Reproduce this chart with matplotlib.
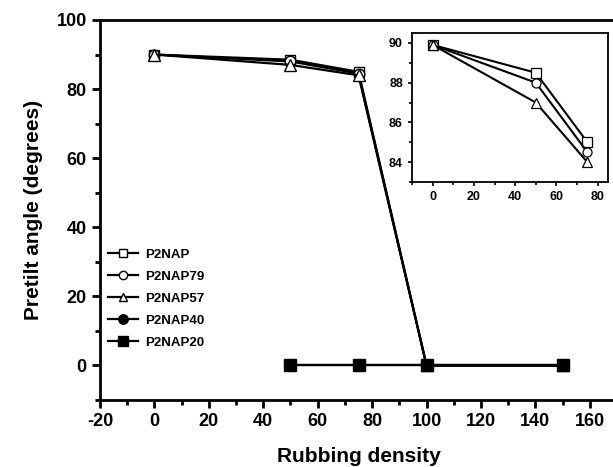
import matplotlib
matplotlib.use('Agg')
import matplotlib.pyplot as plt
from matplotlib.ticker import MultipleLocator

plt.rcParams['font.family'] = ['Liberation Sans', 'DejaVu Sans']
plt.rcParams['font.weight'] = 'bold'
plt.rcParams['axes.unicode_minus'] = False

# Hauptdiagramm
names = ['P2NAP', 'P2NAP79', 'P2NAP57', 'P2NAP40', 'P2NAP20']
markers = ['s', 'o', '^', 'o', 's']
filled = [False, False, False, True, True]

x_open = [0, 50, 75, 100, 150]
y_p2nap = [90, 88.5, 85, 0, 0]
y_p2nap79 = [90, 88, 84.5, 0, 0]
y_p2nap57 = [90, 87, 84, 0, 0]
x_filled = [50, 75, 100, 150]
y_p2nap40 = [0, 0, 0, 0]
y_p2nap20 = [0, 0, 0, 0]

# Inset
x_inset = [0, 50, 75]
yi_p2nap = [89.9, 88.5, 85]
yi_p2nap79 = [89.9, 88, 84.5]
yi_p2nap57 = [89.9, 87, 84]

W, H = 613, 467
fig = plt.figure(figsize=(W / 100, H / 100), dpi=100)
ax = fig.add_axes([100 / W, (H - 400) / H, 517 / W, 380 / H])

serien = [(x_open, y_p2nap), (x_open, y_p2nap79), (x_open, y_p2nap57),
          (x_filled, y_p2nap40), (x_filled, y_p2nap20)]
for (xs, ys), name, m, f in zip(serien, names, markers, filled):
    if f:
        ms = 8.5
    else:
        ms = 7.5 if m != '^' else 8
    ax.plot(xs, ys, color='black', lw=1.6, marker=m, markersize=ms,
            markerfacecolor='black' if f else 'white',
            markeredgecolor='black', markeredgewidth=1.0, label=name,
            zorder=3 if f else 2)

ax.set_xlim(-20, 170)
ax.set_ylim(-10, 100)
ax.xaxis.set_major_locator(MultipleLocator(20))
ax.xaxis.set_minor_locator(MultipleLocator(10))
ax.yaxis.set_major_locator(MultipleLocator(20))
ax.yaxis.set_minor_locator(MultipleLocator(10))
ax.tick_params(which='major', direction='out', length=6, width=2, labelsize=13)
ax.tick_params(which='minor', direction='out', length=3.5, width=2)
for s in ax.spines.values():
    s.set_linewidth(2)
ax.set_xlabel('Rubbing density', fontsize=15, fontweight='bold', labelpad=12)
ax.set_ylabel('Pretilt angle (degrees)', fontsize=15, fontweight='bold', labelpad=10)

leg = ax.legend(loc='upper left', bbox_to_anchor=(0.0, 0.42), frameon=False,
                prop={'size': 9.5, 'weight': 'bold'}, handlelength=2.3,
                handletextpad=0.5, labelspacing=0.75, borderaxespad=0.2,
                markerscale=0.8)

# Inset
axi = fig.add_axes([412 / W, (H - 182) / H, 196 / W, 149 / H])
inset = [yi_p2nap, yi_p2nap79, yi_p2nap57]
for ys, m in zip(inset, markers[:3]):
    axi.plot(x_inset, ys, color='black', lw=1.5, marker=m, markersize=6.5,
             markerfacecolor='white', markeredgecolor='black', markeredgewidth=0.9)
axi.set_xlim(-10, 85)
axi.set_ylim(83, 90.5)
axi.xaxis.set_major_locator(MultipleLocator(20))
axi.xaxis.set_minor_locator(MultipleLocator(10))
axi.yaxis.set_major_locator(MultipleLocator(2))
axi.yaxis.set_minor_locator(MultipleLocator(1))
axi.tick_params(which='major', direction='out', length=3, width=1.2, labelsize=9)
axi.tick_params(which='minor', direction='out', length=2, width=1.2)
for s in axi.spines.values():
    s.set_linewidth(1.3)

fig.savefig('out.png', dpi=100)
